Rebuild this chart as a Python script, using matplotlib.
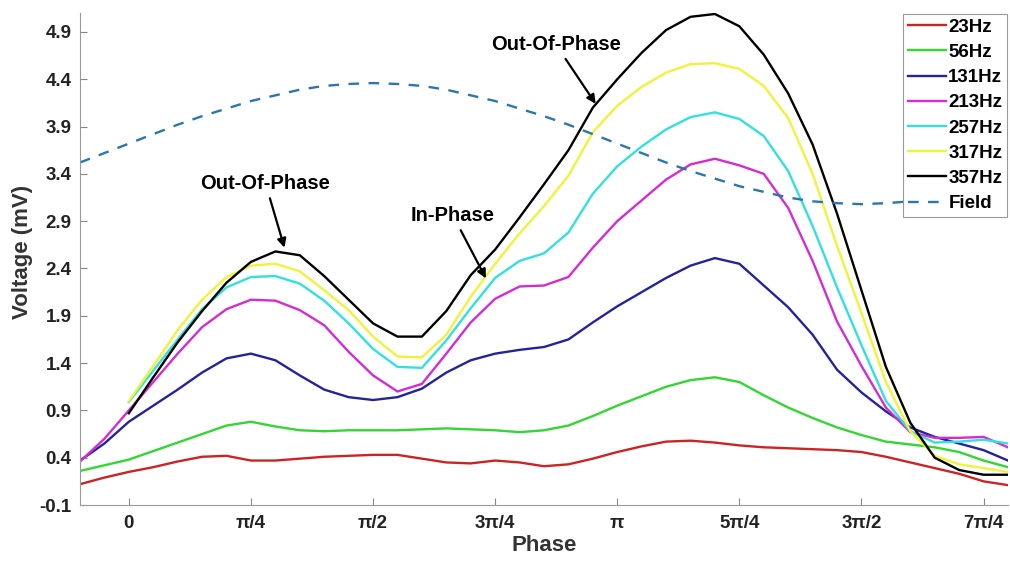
import numpy as np
import matplotlib.pyplot as plt

plt.rcParams['font.family'] = ['Liberation Sans', 'DejaVu Sans']
plt.rcParams['font.weight'] = 'bold'

# phase grid, in units of pi/4
phase_q = [-0.4, -0.2, 0.0, 0.2, 0.4, 0.6, 0.8, 1.0, 1.2, 1.4, 1.6, 1.8, 2.0,
           2.2, 2.4, 2.6, 2.8, 3.0, 3.2, 3.4, 3.6, 3.8, 4.0, 4.2, 4.4, 4.6,
           4.8, 5.0, 5.2, 5.4, 5.6, 5.8, 6.0, 6.2, 6.4, 6.6, 6.8, 7.0, 7.2]

nan = np.nan
v23 = [0.12, 0.19, 0.25, 0.30, 0.36, 0.41, 0.42, 0.37, 0.37, 0.39, 0.41, 0.42, 0.43,
       0.43, 0.39, 0.35, 0.34, 0.37, 0.35, 0.31, 0.33, 0.39, 0.46, 0.52, 0.57, 0.58,
       0.56, 0.53, 0.51, 0.50, 0.49, 0.48, 0.46, 0.41, 0.35, 0.29, 0.23, 0.15, 0.11]
v56 = [0.26, 0.32, 0.38, 0.47, 0.56, 0.65, 0.74, 0.78, 0.73, 0.69, 0.68, 0.69, 0.69,
       0.69, 0.70, 0.71, 0.70, 0.69, 0.67, 0.69, 0.74, 0.84, 0.95, 1.05, 1.15, 1.22,
       1.25, 1.20, 1.06, 0.93, 0.82, 0.72, 0.64, 0.57, 0.54, 0.51, 0.46, 0.37, 0.30]
v131 = [0.37, 0.55, 0.78, 0.95, 1.12, 1.30, 1.45, 1.50, 1.43, 1.27, 1.12, 1.04, 1.01,
        1.04, 1.13, 1.30, 1.43, 1.50, 1.54, 1.57, 1.65, 1.83, 2.00, 2.15, 2.30, 2.43,
        2.51, 2.45, 2.22, 1.99, 1.70, 1.33, 1.09, 0.89, 0.72, 0.62, 0.55, 0.48, 0.37]
v213 = [0.36, 0.60, 0.90, 1.20, 1.50, 1.78, 1.97, 2.07, 2.06, 1.96, 1.80, 1.52, 1.27,
        1.10, 1.18, 1.50, 1.83, 2.08, 2.21, 2.22, 2.31, 2.62, 2.90, 3.12, 3.34, 3.50,
        3.56, 3.49, 3.40, 3.04, 2.48, 1.84, 1.37, 0.93, 0.67, 0.61, 0.61, 0.62, 0.51]
v257 = [nan, nan, 0.99, 1.32, 1.65, 1.97, 2.20, 2.31, 2.32, 2.24, 2.06, 1.82, 1.55,
        1.36, 1.35, 1.64, 1.98, 2.30, 2.48, 2.56, 2.78, 3.19, 3.48, 3.69, 3.87, 4.00,
        4.05, 3.98, 3.80, 3.43, 2.85, 2.20, 1.59, 1.00, 0.68, 0.56, 0.57, 0.59, 0.55]
v317 = [nan, nan, 1.00, 1.37, 1.75, 2.07, 2.31, 2.43, 2.45, 2.37, 2.17, 1.96, 1.68,
        1.47, 1.46, 1.70, 2.10, 2.45, 2.77, 3.06, 3.38, 3.84, 4.12, 4.32, 4.47, 4.56,
        4.57, 4.51, 4.33, 3.99, 3.40, 2.64, 1.93, 1.20, 0.68, 0.42, 0.33, 0.29, 0.25]
v357 = [nan, nan, 0.87, 1.25, 1.62, 1.95, 2.25, 2.47, 2.58, 2.54, 2.32, 2.07, 1.82,
        1.68, 1.68, 1.95, 2.33, 2.60, 2.94, 3.29, 3.65, 4.10, 4.40, 4.68, 4.92, 5.06,
        5.09, 4.96, 4.66, 4.25, 3.71, 2.98, 2.17, 1.36, 0.77, 0.40, 0.27, 0.22, 0.22]
field = [3.52, 3.62, 3.72, 3.82, 3.92, 4.01, 4.09, 4.17, 4.23, 4.29, 4.33, 4.35, 4.36,
         4.35, 4.33, 4.29, 4.23, 4.17, 4.09, 4.01, 3.92, 3.82, 3.72, 3.62, 3.52, 3.43,
         3.35, 3.27, 3.21, 3.15, 3.11, 3.09, 3.08, 3.09, 3.11, 3.15, 3.21, 3.27, 3.35]

series = [('23Hz', v23, '#cc2424'), ('56Hz', v56, '#33d633'),
          ('131Hz', v131, '#23239b'), ('213Hz', v213, '#d42bd4'),
          ('257Hz', v257, '#33e0e0'), ('317Hz', v317, '#f2f23a'),
          ('357Hz', v357, '#000000')]

xtick_labels = ['0', 'π/4', 'π/2', '3π/4', 'π', '5π/4', '3π/2', '7π/4']

x = np.array(phase_q) * np.pi / 4

fig = plt.figure(figsize=(10.1, 5.62), dpi=100)
ax = fig.add_axes([0.0792, 0.1014, 0.9188, 0.8754])

for name, vals, col in series:
    ax.plot(x, vals, color=col, linewidth=1.7, label=name, solid_joinstyle='round')
ax.plot(x, field, color='#2b77ad', linewidth=1.7, linestyle=(0, (4.5, 4)), label='Field')

ax.set_xlim(-0.1 * np.pi, 1.8 * np.pi)
ax.set_ylim(-0.1, 5.1)
ax.set_xticks(np.arange(8) * np.pi / 4)
ax.set_xticklabels(xtick_labels)
yt = np.arange(-0.1, 5.0, 0.5)
ax.set_yticks(yt)
ax.set_yticklabels(['%.1f' % v for v in yt])
ax.tick_params(axis='x', direction='in', length=5, pad=7, labelsize=13.5, colors='#888888', labelcolor='#222222')
ax.tick_params(axis='y', direction='in', length=5, pad=6, labelsize=13.5, colors='#888888', labelcolor='#222222')

for s in ['top', 'right']:
    ax.spines[s].set_visible(False)
for s in ['left', 'bottom']:
    ax.spines[s].set_color('#999999')

ax.set_xlabel('Phase', fontsize=16, fontweight='bold', color='#333333', labelpad=2)
ax.set_ylabel('Voltage (mV)', fontsize=16, fontweight='bold', color='#333333')
ax.yaxis.set_label_coords(-0.051, 0.515)

arrow = dict(arrowstyle='-|>', color='black', lw=1.6, mutation_scale=13, shrinkA=2, shrinkB=0)
ax.annotate('Out-Of-Phase', xy=(1.001, 2.62), xytext=(0.879, 3.30), ha='center', va='center',
            fontsize=14.5, fontweight='bold', arrowprops=arrow)
ax.annotate('In-Phase', xy=(2.297, 2.295), xytext=(2.085, 2.96), ha='center', va='center',
            fontsize=14.5, fontweight='bold', arrowprops=arrow)
ax.annotate('Out-Of-Phase', xy=(3.003, 4.14), xytext=(2.746, 4.77), ha='center', va='center',
            fontsize=14.5, fontweight='bold', arrowprops=arrow)

leg = ax.legend(loc='upper right', fontsize=13.5, frameon=True, fancybox=False,
                edgecolor='#999999', framealpha=1, borderaxespad=0.05,
                handlelength=2.0, handletextpad=0.15, labelspacing=0.43,
                borderpad=0.25)
leg.get_frame().set_linewidth(0.8)

plt.savefig('out.png', dpi=100)
